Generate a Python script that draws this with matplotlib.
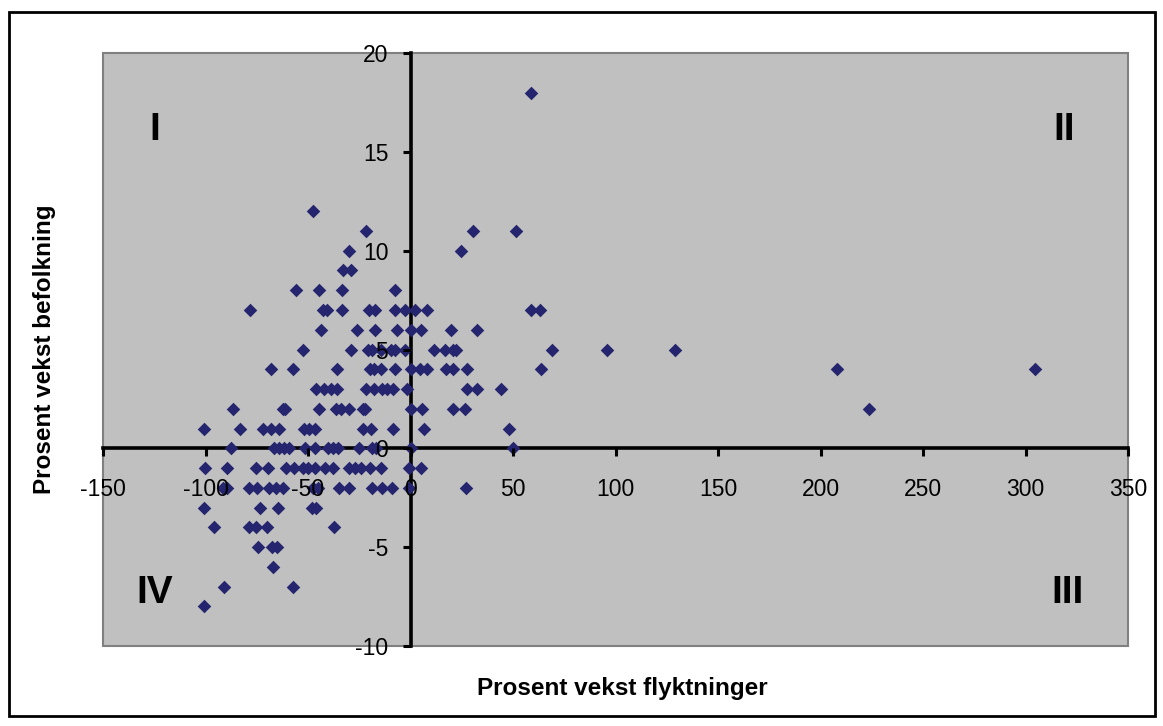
import matplotlib
matplotlib.use("Agg")
import matplotlib.pyplot as plt
from matplotlib.patches import Rectangle

plt.rcParams['font.family'] = ['Liberation Sans', 'DejaVu Sans']
plt.rcParams['axes.unicode_minus'] = False

# prosent vekst flyktninger (x) og prosent vekst befolkning (y), lest av figuren rad for rad
flyktninger = [
    58.6,                                                       # 18
    -47.7,                                                      # 12
    -21.5, 30.3, 51.7,                                          # 11
    -30.1, 24.5,                                                # 10
    -32.7, -29.0,                                               # 9
    -55.7, -44.8, -33.3, -7.7,                                  # 8
    -78.1, -42.8, -40.9, -33.2, -20.3, -17.4, -7.8, -2.9, 2.2, 8.1, 58.6, 63.0,  # 7
    -43.6, -26.2, -17.4, -6.7, 0.0, 5.0, 19.7, 32.4,            # 6
    -52.6, -29.1, -20.8, -18.6, -14.3, -9.5, -7.5, -2.6, 11.7, 16.6, 20.7, 22.3,
    69.2, 95.9, 128.9,                                          # 5
    -68.0, -57.5, -36.0, -20.0, -17.6, -14.3, -7.5, 0.0, 4.6, 8.1, 17.4, 20.8,
    27.5, 63.6, 208.2, 304.8,                                   # 4
    -46.1, -42.0, -38.7, -35.8, -21.6, -17.6, -13.8, -11.4, -8.6, -1.8, 27.4,
    32.4, 44.0,                                                 # 3
    -86.8, -62.3, -61.2, -44.8, -36.3, -33.8, -29.8, -23.3, -22.1, 0.0, 5.8,
    20.5, 26.5, 223.8,                                          # 2
    -100.6, -83.0, -71.8, -68.0, -64.3, -51.8, -49.3, -46.4, -23.3, -19.2, -8.6,
    6.8, 48.0,                                                  # 1
    -87.6, -66.4, -64.0, -61.7, -59.5, -51.6, -46.4, -40.4, -37.9, -35.5, -25.3,
    -18.7, -16.7, 0.0, 50.0,                                    # 0
    -100.4, -89.4, -75.3, -69.5, -60.7, -56.6, -52.6, -50.1, -46.6, -41.7, -37.9,
    -30.1, -27.3, -24.2, -20.0, -14.4, -0.5, 5.2,               # -1
    -91.7, -89.3, -78.6, -74.8, -68.8, -65.8, -62.3, -47.7, -45.3, -34.9, -29.8,
    -18.7, -13.7, -8.8, -0.5, 27.2,                             # -2
    -100.9, -73.4, -64.8, -48.0, -46.1,                         # -3
    -95.7, -78.9, -75.3, -70.1, -37.1,                          # -4
    -74.2, -67.5, -65.3,                                        # -5
    -67.2,                                                      # -6
    -90.8, -57.5,                                               # -7
    -100.6,                                                     # -8
]

befolkning = (
    [18] * 1 + [12] * 1 + [11] * 3 + [10] * 2 + [9] * 2 + [8] * 4 + [7] * 12 +
    [6] * 8 + [5] * 15 + [4] * 16 + [3] * 13 + [2] * 14 + [1] * 13 + [0] * 15 +
    [-1] * 18 + [-2] * 16 + [-3] * 5 + [-4] * 5 + [-5] * 3 + [-6] * 1 +
    [-7] * 2 + [-8] * 1
)

x_ticks = [-150, -100, -50, 0, 50, 100, 150, 200, 250, 300, 350]
y_ticks = [-10, -5, 0, 5, 10, 15, 20]
kvadranter = ['I', 'II', 'III', 'IV']

W, H = 1163, 726
fig = plt.figure(figsize=(W / 100, H / 100), dpi=100)
fig.patch.set_facecolor('white')

ax = fig.add_axes([103 / W, 1 - 646 / H, 1025 / W, 593 / H])
ax.set_facecolor('#C0C0C0')

ax.scatter(flyktninger, befolkning, marker='D', s=48, color='#25256F',
           linewidths=0, zorder=3)

ax.set_xlim(-150, 350)
ax.set_ylim(-10, 20)
ax.set_xticks(x_ticks)
ax.set_yticks(y_ticks)

for side in ['top', 'right']:
    ax.spines[side].set_visible(False)
for side in ['left', 'bottom']:
    ax.spines[side].set_position(('data', 0))
    ax.spines[side].set_linewidth(2.6)
    ax.spines[side].set_color('black')
    ax.spines[side].set_zorder(2)

ax.add_patch(Rectangle((0, 0), 1, 1, transform=ax.transAxes, fill=False,
                       edgecolor='#808080', linewidth=1.5, zorder=1, clip_on=False))

ax.tick_params(axis='x', direction='out', length=6, width=2.2, labelsize=16.5, pad=15)
ax.tick_params(axis='y', direction='out', length=6, width=2.2, labelsize=16.5, pad=10)
ax.xaxis.set_zorder(4)
ax.yaxis.set_zorder(4)

pos = {'I': (0.0507, 0.870), 'II': (0.9376, 0.870),
       'III': (0.941, 0.0894), 'IV': (0.0507, 0.0894)}
for k in kvadranter:
    ax.text(pos[k][0], pos[k][1], k, transform=ax.transAxes, fontsize=28,
            fontweight='bold', ha='center', va='center')

fig.text(622 / W, 1 - 688 / H, 'Prosent vekst flyktninger', fontsize=17.5,
         fontweight='bold', ha='center', va='center')
fig.text(45 / W, 1 - 349 / H, 'Prosent vekst befolkning', fontsize=17.5,
         fontweight='bold', ha='center', va='center', rotation=90)

fig.add_artist(Rectangle((9 / W, 1 - 716 / H), 1146 / W, 704 / H,
                         transform=fig.transFigure, fill=False,
                         edgecolor='black', linewidth=2))

plt.savefig('out.png', dpi=100)
